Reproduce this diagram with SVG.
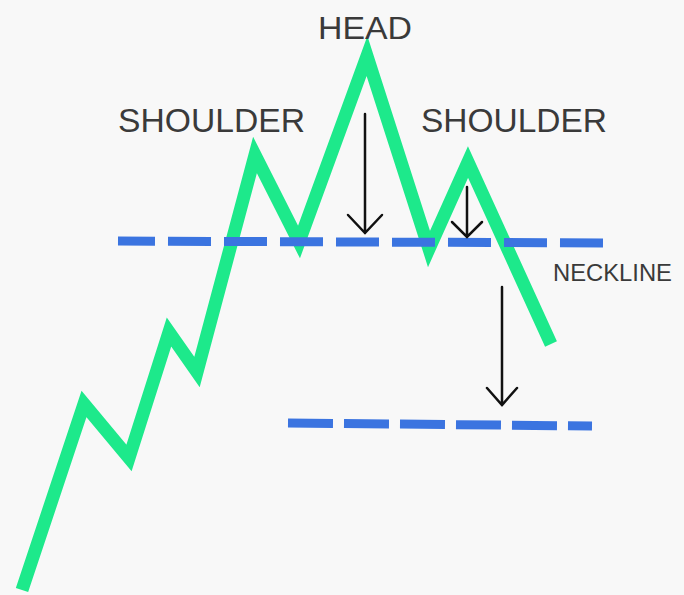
<svg xmlns="http://www.w3.org/2000/svg" width="684" height="595" viewBox="0 0 684 595">
<defs>
<style>
.lbl{font-family:"Liberation Sans","Noto Sans",sans-serif;fill:#3a3a3a;}
.price{fill:none;stroke:#1de98b;stroke-width:13;stroke-linejoin:miter;stroke-miterlimit:10;stroke-linecap:butt;}
.dash{fill:none;stroke:#3b74e0;stroke-width:9;}
.arr{fill:none;stroke:#111;stroke-width:2.5;stroke-linecap:round;stroke-linejoin:miter;}
</style>
</defs>
<rect width="684" height="595" fill="#f8f8f8"/>
<g id="price-line">
<polyline class="price" points="22,590 84,404 129,458 169,332 197,372 255,155 299,242 367,56 429,249 468,162 551,344"/>
</g>
<g id="neckline">
<line class="dash" x1="118" y1="241" x2="605" y2="243" stroke-dasharray="43 13" stroke-dashoffset="6"/>
</g>
<g id="target-line">
<line class="dash" x1="288" y1="423" x2="592" y2="426" stroke-dasharray="45 11"/>
</g>
<g id="connectors">
<path class="arr" d="M365,114 V233 M348,215 L365,233 L382,215"/>
<path class="arr" d="M467,187 V237 M452,222 L467,237 L482,222"/>
<path class="arr" d="M502,287 V405 M487,388 L502,405 L517,388"/>
</g>
<g id="label-head"><text class="lbl" x="318" y="39" font-size="32" textLength="94" lengthAdjust="spacingAndGlyphs">HEAD</text></g>
<g id="label-left-shoulder"><text class="lbl" x="118" y="132" font-size="33" textLength="187" lengthAdjust="spacingAndGlyphs">SHOULDER</text></g>
<g id="label-right-shoulder"><text class="lbl" x="421" y="132" font-size="33" textLength="186" lengthAdjust="spacingAndGlyphs">SHOULDER</text></g>
<g id="label-neckline"><text class="lbl" x="553" y="281" font-size="24" textLength="119" lengthAdjust="spacingAndGlyphs">NECKLINE</text></g>
</svg>
